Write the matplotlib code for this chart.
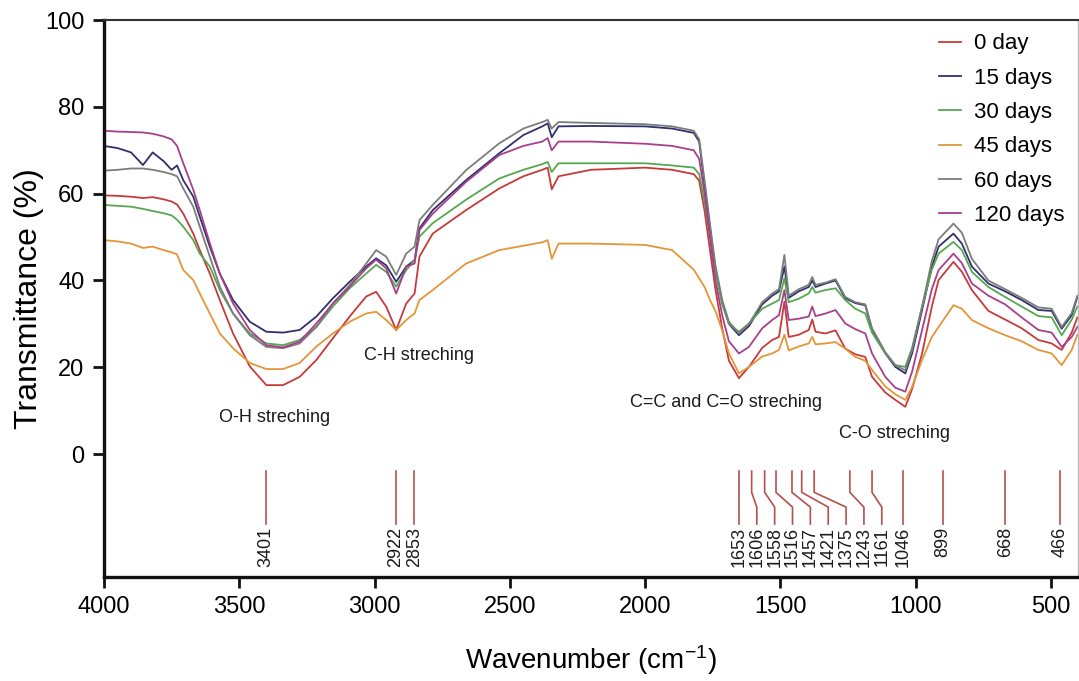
import matplotlib
matplotlib.use("Agg")
import matplotlib.pyplot as plt

plt.rcParams["font.family"] = ["Liberation Sans", "DejaVu Sans"]
plt.rcParams["mathtext.default"] = "regular"

# wavenumber grid shared by all spectra (cm-1)
wavenumber = [
    4000, 3950, 3900, 3856, 3820, 3780, 3750, 3730, 3707, 3670, 3646, 3609, 3572,
    3523, 3461, 3400, 3338, 3277, 3215, 3154, 3092, 3031, 2994, 2957, 2920, 2883,
    2852, 2834, 2785, 2662, 2539,
    2450, 2380, 2360, 2345, 2320, 2200, 2000, 1900, 1820, 1800, 1780, 1760, 1740,
    1715, 1690,
    1653, 1616, 1567, 1530, 1505, 1485, 1469, 1432, 1395, 1382, 1370, 1333, 1296,
    1260, 1223, 1186, 1161, 1112, 1075, 1038, 1013, 976, 940, 915, 860, 829, 792,
    731, 669, 608, 546, 497, 460, 423, 402,
]

day0 = [
    59.6, 59.5, 59.3, 59.0, 59.2, 58.7, 58.2, 57.5, 55.4, 50.8, 47.0, 41.6, 35.5,
    27.8, 20.2, 15.9, 15.9, 17.8, 21.7, 26.7, 31.7, 36.3, 37.4, 34.0, 28.6, 34.7,
    37.0, 45.5, 50.8, 56.2, 61.2,
    64.0, 65.5, 66.0, 61.0, 64.0, 65.5, 66.0, 65.5, 64.5, 63.0, 56.0, 47.0, 38.0,
    29.0, 21.5,
    17.5, 20.1, 24.5, 26.3, 27.0, 35.1, 27.0, 27.5, 28.6, 31.0, 28.2, 27.8, 28.5,
    24.3, 23.0, 22.4, 17.8, 14.2, 12.5, 10.9, 15.0, 23.2, 34.0, 40.1, 44.3, 42.0, 37.8,
    33.0, 31.0, 29.0, 26.3, 25.5, 24.0, 28.0, 31.5,
]

day15 = [
    71.0, 70.5, 69.5, 66.6, 69.5, 67.5, 65.5, 66.5, 63.1, 59.3, 54.7, 47.8, 41.6,
    35.5, 30.5, 28.2, 28.0, 28.6, 31.7, 35.9, 39.7, 43.2, 45.1, 43.5, 39.7, 43.2,
    44.7, 52.0, 56.2, 63.1, 69.3,
    73.5, 75.5, 76.2, 73.0, 75.5, 75.6, 75.5, 75.0, 74.0, 72.0, 62.0, 52.0, 43.0,
    35.0, 30.0,
    27.4, 29.5, 34.5, 36.5, 37.5, 43.2, 36.0, 37.5, 38.5, 40.0, 38.5, 39.3, 40.0,
    35.9, 34.8, 34.3, 28.6, 23.2, 20.1, 18.6, 23.2, 33.2, 43.2, 47.8, 50.8, 48.5, 43.2,
    39.3, 37.5, 35.5, 33.2, 33.0, 28.9, 32.0, 36.2,
]

day30 = [
    57.4, 57.2, 57.0, 56.5, 56.0, 55.5, 55.0, 54.0, 52.4, 49.3, 46.2, 43.2, 37.8,
    32.4, 27.8, 25.5, 25.1, 26.3, 29.3, 34.0, 38.2, 41.6, 43.6, 42.0, 38.6, 42.4,
    44.7, 50.1, 53.2, 58.6, 63.5,
    65.5, 66.8, 67.3, 65.0, 67.0, 67.0, 67.0, 66.5, 66.0, 64.5, 58.0, 50.0, 42.0,
    34.5, 30.0,
    28.2, 30.1, 33.5, 34.7, 35.5, 40.5, 35.0, 35.8, 37.0, 38.5, 37.2, 37.8, 38.2,
    35.5, 33.5, 32.4, 28.0, 23.2, 20.5, 20.1, 24.5, 34.0, 42.5, 46.2, 48.9, 47.0, 42.0,
    38.5, 36.2, 34.0, 31.8, 31.5, 27.4, 31.0, 34.0,
]

day45 = [
    49.3, 49.0, 48.5, 47.5, 47.8, 47.0, 46.5, 46.0, 42.4, 40.1, 37.0, 32.4, 27.8,
    24.4, 21.0, 19.6, 19.6, 21.0, 24.8, 27.8, 30.5, 32.4, 32.8, 30.9, 28.6, 30.9,
    32.4, 35.5, 37.8, 43.9, 47.0,
    48.0, 48.8, 49.3, 45.0, 48.5, 48.5, 48.2, 47.0, 42.5, 40.5, 38.5, 35.5, 33.0,
    28.5, 23.2,
    18.6, 20.1, 22.5, 23.2, 24.0, 27.5, 23.9, 24.8, 25.5, 27.0, 25.3, 25.5, 25.8,
    24.3, 22.4, 21.5, 19.4, 15.6, 13.8, 12.5, 15.5, 21.7, 27.0, 29.3, 34.3, 33.5, 30.9,
    29.0, 27.4, 26.0, 24.0, 23.2, 20.5, 24.0, 27.5,
]

day60 = [
    65.3, 65.5, 65.8, 65.8, 65.5, 65.0, 64.5, 64.0, 61.2, 57.0, 52.4, 45.5, 38.6,
    32.4, 27.4, 24.7, 24.4, 25.5, 29.3, 34.7, 38.9, 43.9, 47.0, 45.5, 41.3, 46.2,
    47.8, 53.9, 57.4, 65.4, 71.6,
    75.0, 76.5, 77.0, 75.0, 76.5, 76.3, 76.0, 75.5, 74.5, 72.5, 63.0, 53.0, 43.5,
    35.5, 30.5,
    27.8, 30.0, 35.0, 37.0, 38.0, 45.9, 36.5, 38.0, 39.0, 40.8, 39.0, 39.5, 40.3,
    36.2, 35.0, 34.5, 29.0, 23.5, 20.5, 19.3, 24.0, 34.0, 44.5, 49.5, 53.1, 51.0, 45.0,
    40.0, 38.0, 36.0, 33.8, 33.5, 29.3, 32.5, 36.5,
]

day120 = [
    74.5, 74.3, 74.2, 74.1, 73.8, 73.2, 72.5, 71.0, 67.0, 60.9, 56.2, 48.6, 41.6,
    34.7, 28.6, 25.1, 24.6, 25.9, 30.1, 34.7, 38.6, 42.8, 44.8, 42.8, 37.0, 43.2,
    43.9, 51.6, 55.4, 62.7, 68.9,
    71.0, 72.0, 72.8, 70.0, 72.0, 72.0, 71.5, 71.0, 70.0, 68.0, 60.0, 50.0, 40.0,
    32.0, 26.0,
    23.2, 24.7, 29.0, 30.9, 32.0, 37.8, 30.9, 31.2, 31.7, 34.0, 31.8, 32.4, 33.2,
    30.1, 28.8, 27.8, 23.2, 17.8, 15.3, 14.4, 19.0, 28.6, 38.0, 42.4, 46.2, 44.0, 39.3,
    36.5, 34.5, 31.5, 28.6, 28.0, 24.7, 27.0, 29.3,
]

series_labels = ["0 day", "15 days", "30 days", "45 days", "60 days", "120 days"]
series_values = [day0, day15, day30, day45, day60, day120]
series_colors = ["#c83a3a", "#2f306c", "#55a84f", "#e39638", "#7c7c7c", "#a83f8c"]

peaks = [3401, 2922, 2853, 1653, 1606, 1558, 1516, 1457, 1421, 1375, 1243,
         1161, 1046, 899, 668, 466]

band_labels = ["O-H streching", "C-H streching", "C=C and C=O streching", "C-O streching"]
band_x = [3369, 2834, 1701, 1078]
band_y = [8.5, 22.8, 12.0, 4.8]


def spread_labels(values, gap):
    # push crowded labels to the right (lower wavenumber) so they don't overlap
    out = []
    for v in values:
        if out and out[-1] - v < gap:
            out.append(out[-1] - gap)
        else:
            out.append(v)
    return out


fig = plt.figure(figsize=(10.79, 6.81), dpi=100)
ax = fig.add_axes([0.0964, 0.1527, 0.9026, 0.8179])

for label, values, color in zip(series_labels, series_values, series_colors):
    ax.plot(wavenumber, values, color=color, lw=1.3, label=label)

# peak markers
line_color = "#b4514d"
label_pos = spread_labels(peaks, 66)
for peak, pos in zip(peaks, label_pos):
    ax.plot([peak, peak, pos, pos], [-3.9, -8.8, -12.2, -16.1],
            color=line_color, lw=1.2, solid_joinstyle="round")
    ax.text(pos, -16.8, str(peak), rotation=90, ha="center", va="top",
            fontsize=13, color="#1a1a1a")

for text, x, y in zip(band_labels, band_x, band_y):
    ax.text(x, y, text, ha="center", va="center", fontsize=13, color="#1a1a1a")

ax.set_xlim(4000, 400)
ax.set_ylim(-28.3, 100)
ax.set_xticks([4000, 3500, 3000, 2500, 2000, 1500, 1000, 500])
ax.set_yticks([0, 20, 40, 60, 80, 100])
ax.tick_params(axis="both", labelsize=17, length=8, width=2, pad=6, color="#111111")

for side in ["left", "bottom"]:
    ax.spines[side].set_linewidth(2.4)
    ax.spines[side].set_color("#111111")
ax.spines["top"].set_linewidth(1.5)
ax.spines["top"].set_color("#333333")
ax.spines["right"].set_linewidth(1.0)
ax.spines["right"].set_color("#bbbbbb")

ax.set_xlabel("Wavenumber (cm$^{-1}$)", fontsize=20, labelpad=18)
ax.set_ylabel("Transmittance (%)", fontsize=23, labelpad=1)

ax.legend(loc="upper right", frameon=False, fontsize=16, handlelength=1.0,
          handletextpad=0.6, labelspacing=0.6, borderaxespad=0.2)

fig.savefig("out.png", dpi=100)
